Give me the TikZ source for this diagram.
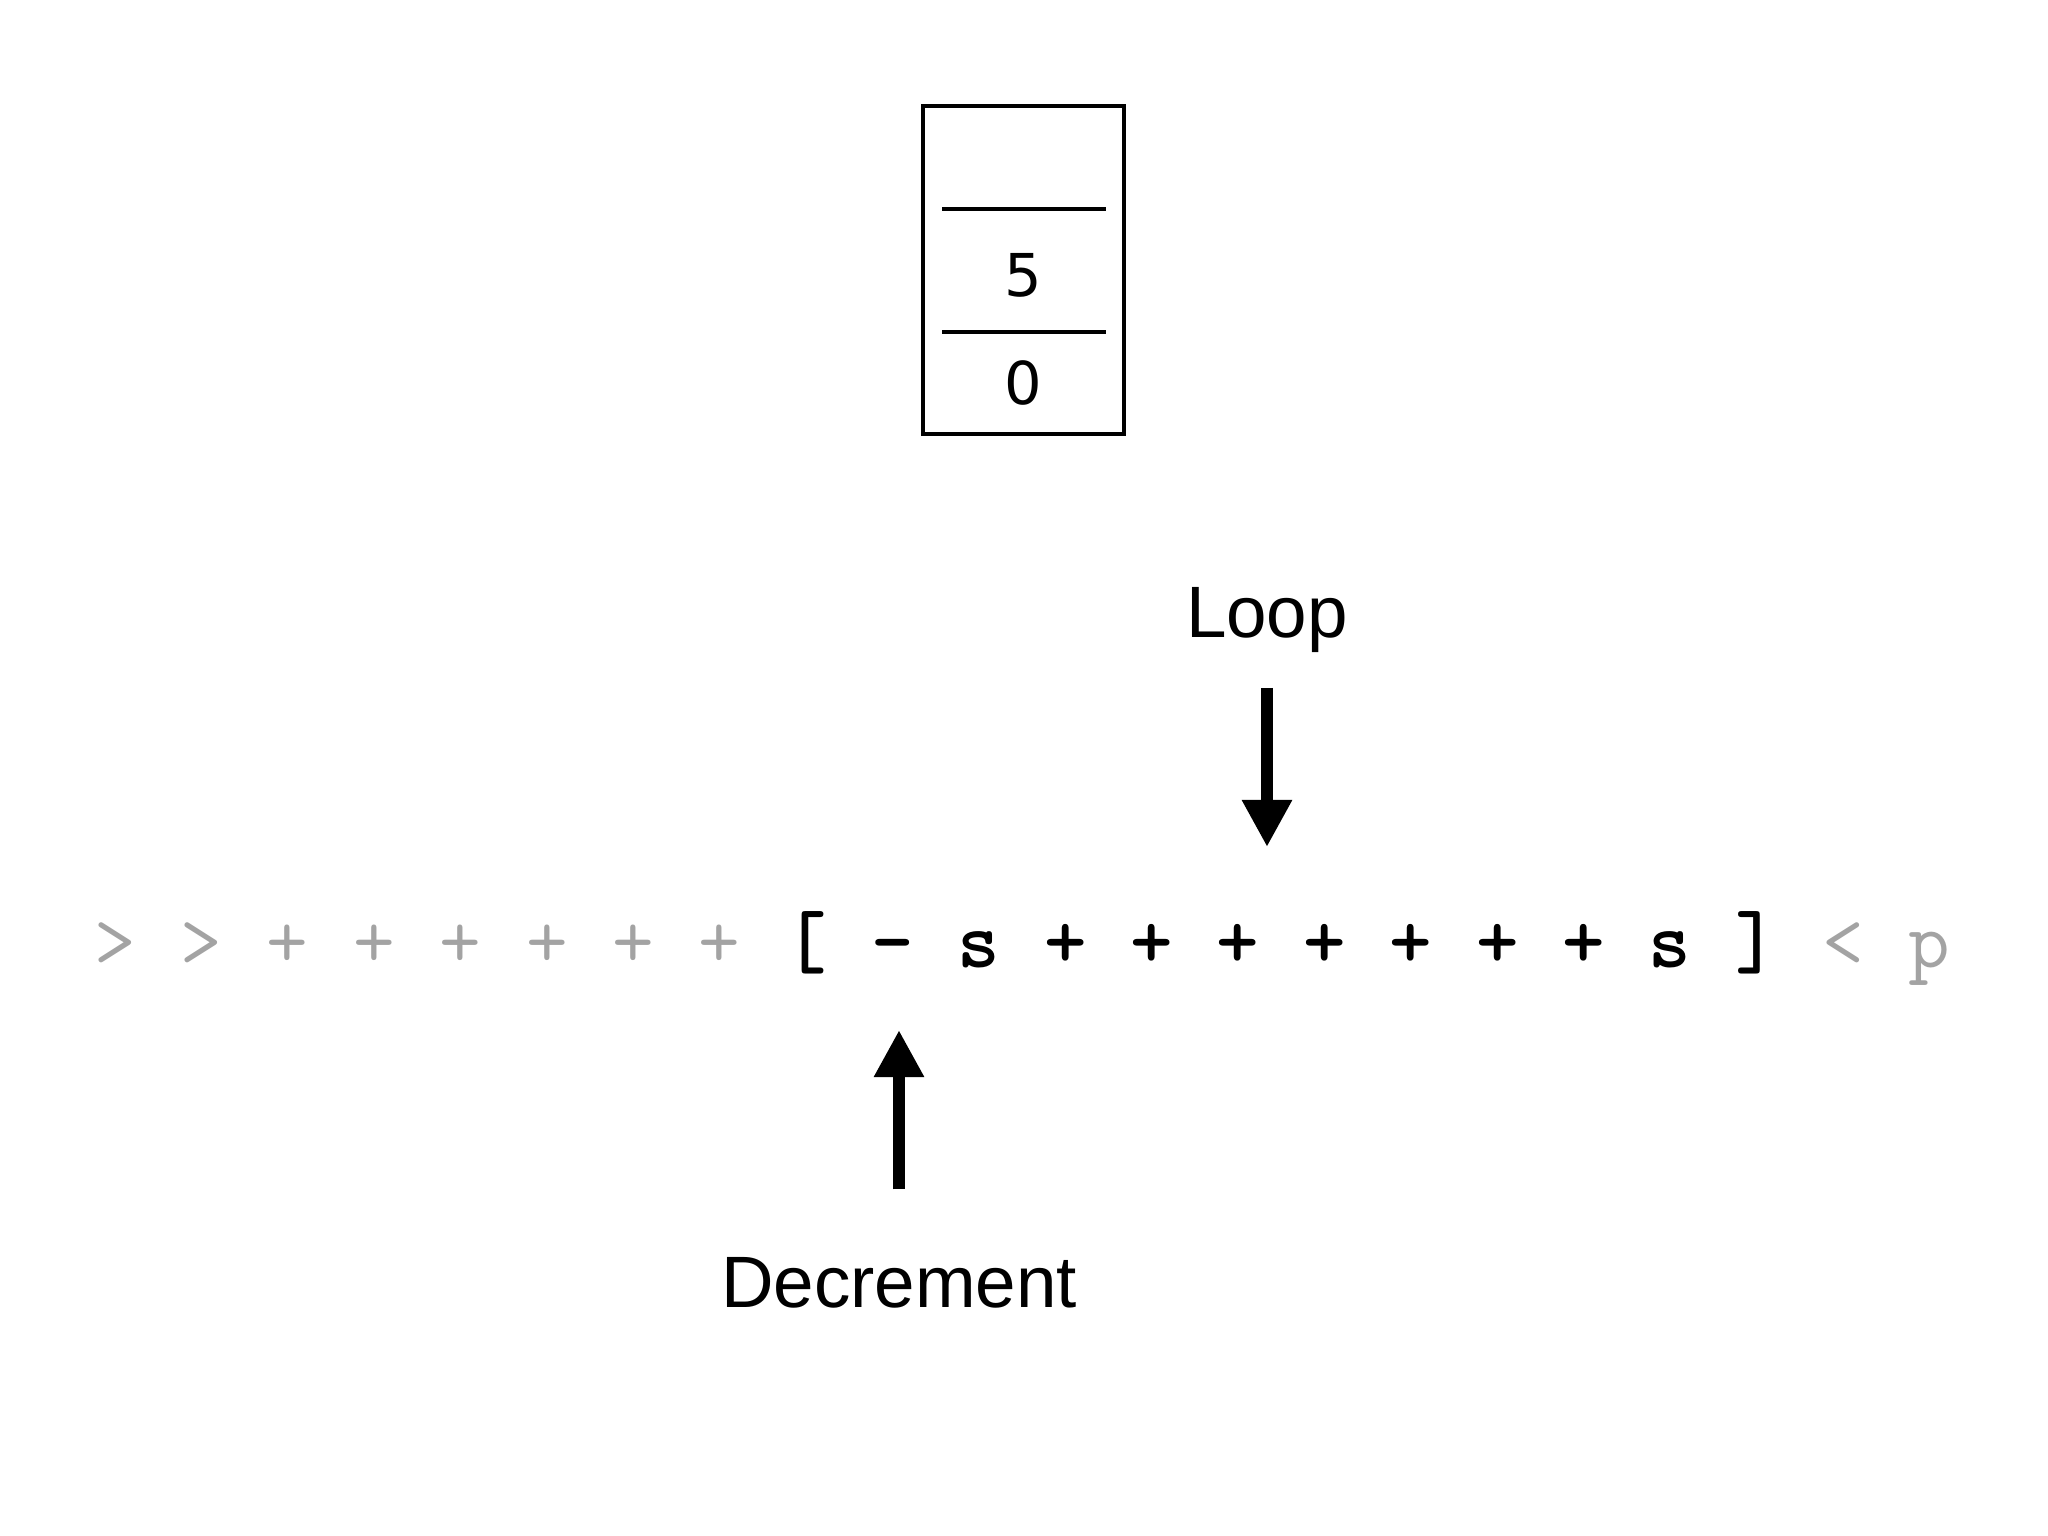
\documentclass[tikz,border=0pt]{standalone}
\usepackage{fontspec}
\setmainfont{Liberation Sans}
\newfontfamily\cellfont{DejaVu Sans}
\usetikzlibrary{arrows.meta, positioning}
\definecolor{codeGray}{HTML}{A3A3A3}
\tikzset{
  arrowK/.style={-{Triangle[length=13.4pt, width=13.4pt]}, line width=3.4pt},
  stackBox/.style={rectangle, draw, line width=1pt, minimum width=2.01cm,
                   minimum height=3.28cm, inner sep=0pt},
  sepLine/.style={line width=1pt},
  cellText/.style={font=\cellfont\fontsize{16.8pt}{18pt}\selectfont, inner sep=0pt},
  labelT/.style={font=\fontsize{20.7pt}{24pt}\selectfont, inner sep=0pt},
  codeG/.style={text=codeGray, font=\ttfamily\fontsize{23pt}{23pt}\selectfont, inner sep=0pt},
  codeB/.style={text=black, font=\ttfamily\bfseries\fontsize{23pt}{23pt}\selectfont, inner sep=0pt},
}
\begin{document}
\begin{tikzpicture}[x=0.01cm, y=-0.01cm]
  \useasboundingbox (0,0) rectangle (2048,1536);
  % stack
  \node[stackBox] (stack) at (1023.5,270) {};
  \draw[sepLine] (942,209) -- (1106,209);
  \draw[sepLine] (942,332) -- (1106,332);
  \node[cellText] (v5) at (1023,275) {5};
  \node[cellText] (v0) at (1023,383) {0};
  % program
  \foreach \ch/\sty [count=\i] in {>/codeG, >/codeG, +/codeG, +/codeG, +/codeG,
      +/codeG, +/codeG, +/codeG, [/codeB, -/codeB, s/codeB, +/codeB, +/codeB,
      +/codeB, +/codeB, +/codeB, +/codeB, +/codeB, s/codeB, ]/codeB, </codeG, p/codeG}
    \node[style=\sty, anchor=base] (c\i) at ({115+86.4*(\i-1)},967) {\ch};
  % labels and arrows
  \node[labelT, anchor=base] (loopLbl) at (1267,637) {Loop};
  \coordinate (loopTip) at (1267,847);
  \draw[arrowK, shorten <=10pt] (loopLbl.south) -- (loopTip);
  \node[labelT, anchor=base] (decLbl) at (899,1307) {Decrement};
  \coordinate (decTip) at (899,1030);
  \draw[arrowK, shorten <=19pt] (decLbl.north) -- (decTip);
\end{tikzpicture}
\end{document}
